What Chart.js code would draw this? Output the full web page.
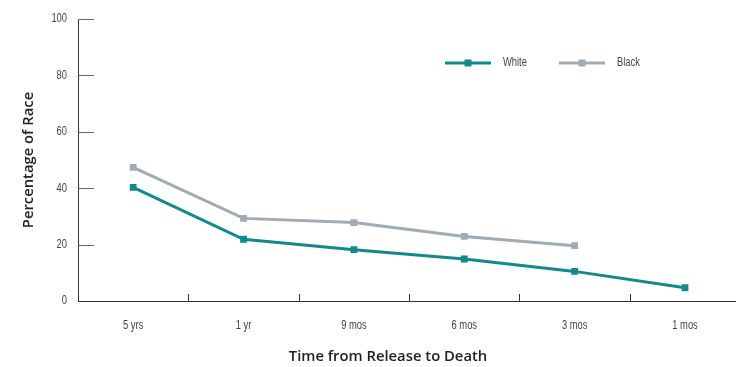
<!DOCTYPE html>
<html>
<head>
<meta charset="utf-8">
<script src="https://cdn.jsdelivr.net/npm/chart.js@4/dist/chart.umd.min.js"></script>
<style>
  html, body { margin: 0; padding: 0; background: #fff; overflow: hidden; }
  #wrap { width: 745px; height: 367px; }
</style>
</head>
<body>
<div id="wrap"><canvas id="raceChart" width="745" height="367"></canvas></div>
<script>
// Data
var categories  = ['5 yrs', '1 yr', '9 mos', '6 mos', '3 mos', '1 mos'];
var whiteValues = [40.3, 21.9, 18.2, 14.9, 10.5, 4.7];
var blackValues = [47.4, 29.3, 27.8, 22.9, 19.6, null];
var seriesNames = ['White', 'Black'];
var yMin = 0, yMax = 100, yStep = 20;

(function () {
  var TEAL = '#128a8a';
  var GREY = '#a1abb3';
  var AXIS = '#333333';
  var NARROW = '"Liberation Sans", Arial, sans-serif';
  var TITLE = '"Open Sans", Lato, sans-serif';
  var SQUEEZE = 0.78; // no condensed face installed, so squeeze the tick/legend text

  var canvas = document.getElementById('raceChart');
  var ctx0 = canvas.getContext('2d');
  var rawFill = ctx0.fillText;
  ctx0.fillText = function (text, x, y) {
    if (this.font.indexOf('Liberation Sans') < 0) return rawFill.apply(this, arguments);
    this.save();
    this.translate(x, y);
    this.scale(SQUEEZE, 1);
    rawFill.call(this, text, 0, 0);
    this.restore();
  };

  // short inward tick marks + legend + x title
  var decor = {
    id: 'decor',
    afterDraw: function (chart) {
      var ctx = chart.ctx;
      var xs = chart.scales.x, ys = chart.scales.y;
      var area = chart.chartArea;
      ctx.save();
      ctx.strokeStyle = '#666';
      ctx.lineWidth = 1;
      ys.ticks.forEach(function (t) {
        if (t.value === yMin) return;
        var y = Math.round(ys.getPixelForValue(t.value)) + 0.5;
        ctx.beginPath();
        ctx.moveTo(area.left, y);
        ctx.lineTo(area.left + 16, y);
        ctx.stroke();
      });
      ctx.strokeStyle = AXIS;
      for (var i = 0; i < categories.length - 1; i++) {
        var x = Math.round((xs.getPixelForValue(i) + xs.getPixelForValue(i + 1)) / 2) + 0.5;
        ctx.beginPath();
        ctx.moveTo(x, area.bottom);
        ctx.lineTo(x, area.bottom - 7);
        ctx.stroke();
      }

      // legend
      var lx = 445, ly = 63;
      chart.data.datasets.forEach(function (ds) {
        ctx.strokeStyle = ds.borderColor;
        ctx.lineWidth = 3;
        ctx.beginPath();
        ctx.moveTo(lx, ly);
        ctx.lineTo(lx + 46, ly);
        ctx.stroke();
        ctx.fillStyle = ds.borderColor;
        ctx.fillRect(lx + 23 - 3.5, ly - 3.5, 7, 7);
        ctx.fillStyle = '#444';
        ctx.font = '12px ' + NARROW;
        ctx.textAlign = 'left';
        ctx.textBaseline = 'middle';
        ctx.fillText(ds.label, lx + 58, ly);
        lx += 114;
      });

      // x axis title
      ctx.fillStyle = '#222';
      ctx.font = '600 14.8px ' + TITLE;
      ctx.textAlign = 'center';
      ctx.textBaseline = 'middle';
      ctx.fillText('Time from Release to Death', 388, 357);
      ctx.restore();
    }
  };

  var chart = new Chart(ctx0, {
    type: 'line',
    data: {
      labels: categories,
      datasets: [
        { label: seriesNames[0], data: whiteValues, borderColor: TEAL, backgroundColor: TEAL },
        { label: seriesNames[1], data: blackValues, borderColor: GREY, backgroundColor: GREY }
      ]
    },
    options: {
      responsive: false,
      animation: false,
      devicePixelRatio: 1,
      layout: { padding: { top: 19, left: 0, right: 0, bottom: 0 } },
      elements: {
        line: { borderWidth: 3, tension: 0 },
        point: { pointStyle: 'rect', radius: 4.8, borderWidth: 0, hoverRadius: 4.8 }
      },
      plugins: {
        legend: { display: false },
        tooltip: { enabled: false }
      },
      scales: {
        x: {
          offset: true,
          grid: { display: false, drawTicks: false },
          border: { display: true, color: AXIS, width: 1 },
          ticks: { color: '#444', padding: 17, maxRotation: 0, font: { family: NARROW, size: 12 } },
          afterFit: function (s) { s.height = 66; }
        },
        y: {
          min: yMin,
          max: yMax,
          grid: { display: false, drawTicks: false },
          border: { display: true, color: AXIS, width: 1 },
          ticks: { stepSize: yStep, color: '#444', padding: 11, font: { family: NARROW, size: 12 } },
          title: {
            display: true,
            text: 'Percentage of Race',
            color: '#222',
            padding: { top: 20, bottom: 0 },
            font: { family: TITLE, size: 14.8, weight: '600' }
          },
          afterFit: function (s) { s.width = 78; }
        }
      }
    },
    plugins: [decor]
  });
})();
</script>
</body>
</html>
